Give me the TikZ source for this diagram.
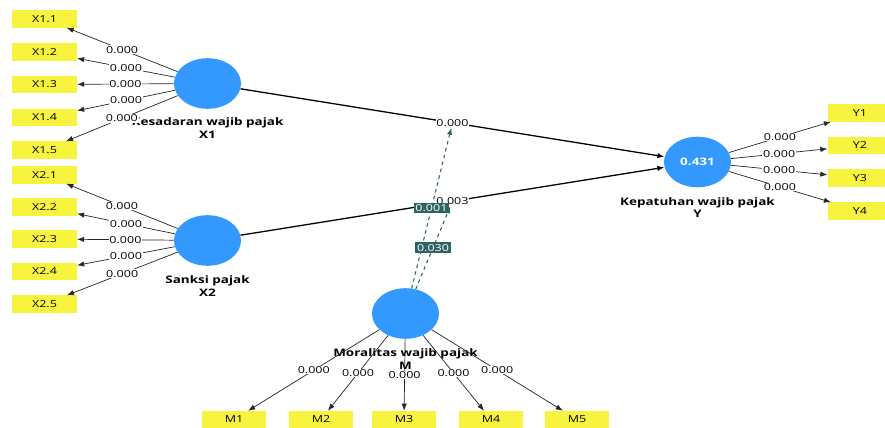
\documentclass[tikz,border=0pt]{standalone}
\usepackage{fontspec}
\setmainfont{Open Sans}[FakeStretch=1.3]
\usetikzlibrary{shapes.geometric, positioning, arrows.meta}

\definecolor{indyellow}{RGB}{247,243,62}
\definecolor{lvblue}{RGB}{51,153,255}
\definecolor{modteal}{RGB}{47,99,99}

\begin{document}
\begin{tikzpicture}[x=0.85pt, y=-0.85pt, >={Latex[length=6pt, width=4.5pt]},
  font=\fontsize{8.2}{9}\selectfont,
  lv/.style={ellipse, fill=lvblue, minimum width=57pt, minimum height=43pt, inner sep=0pt},
  ind/.style={rectangle, fill=indyellow, minimum width=55pt, minimum height=14.5pt, inner sep=0pt},
  lvname/.style={font=\fontsize{8.8}{11}\selectfont\bfseries, align=center, inner sep=0pt},
  load/.style={->, line width=0.6pt, black!85},
  coef/.style={fill=white, inner sep=0.6pt, text=black},
  struct/.style={->, line width=1.1pt},
  mod/.style={->, dashed, modteal, line width=0.9pt},
  modcoef/.style={fill=modteal, text=white, inner sep=1.4pt}]
  \useasboundingbox (0,0) rectangle (885,428);

  % latent variables
  \node[lv] (x1) at (207.5,83.5) {};
  \node[lv] (x2) at (207.5,240.5) {};
  \node[lv, text=white, font=\fontsize{8.8}{10}\selectfont\bfseries] (y) at (697.5,162) {0.431};
  \node[lv] (m) at (405.5,313.5) {};

  \node[lvname, below=7pt of x1] (x1n) {Kesadaran wajib pajak\\X1};
  \node[lvname, below=8pt of x2] (x2n) {Sanksi pajak\\X2};
  \node[lvname, below=8pt of y] (yn) {Kepatuhan wajib pajak\\Y};
  \node[lvname, below=8pt of m] (mn) {Moralitas wajib pajak\\M};

  % indicators
  \foreach \i/\yy in {1/19, 2/52, 3/84.5, 4/117.5, 5/150}
    \node[ind] (x1-\i) at (44.5,\yy) {X1.\i};
  \foreach \i/\yy in {1/175, 2/207, 3/239, 4/271.5, 5/304}
    \node[ind] (x2-\i) at (44.5,\yy) {X2.\i};
  \foreach \i/\yy in {1/113, 2/145.5, 3/178, 4/211}
    \node[ind] (y-\i) at (860,\yy) {Y\i};
  \foreach \i/\xx in {1/234, 2/321, 3/404, 4/491, 5/577}
    \node[ind] (m-\i) at (\xx,419.5) {M\i};

  % outer loadings
  \foreach \i in {1,...,5} {
    \draw[load] (x1) -- node[coef] {0.000} (x1-\i);
    \draw[load] (x2) -- node[coef] {0.000} (x2-\i);
    \draw[load] (m) -- node[coef] {0.000} (m-\i);
  }
  \foreach \i in {1,...,4}
    \draw[load] (y) -- node[coef] {0.000} (y-\i);

  % paths
  \draw[struct] (x1) -- node[coef] (p1) {0.000} (y);
  \draw[struct] (x2) -- node[coef] (p2) {0.003} (y);

  % moderation
  \draw[mod] (m) -- node[modcoef] {0.001} (p1);
  \draw[mod] (m) -- node[modcoef] {0.030} (p2);
\end{tikzpicture}
\end{document}
